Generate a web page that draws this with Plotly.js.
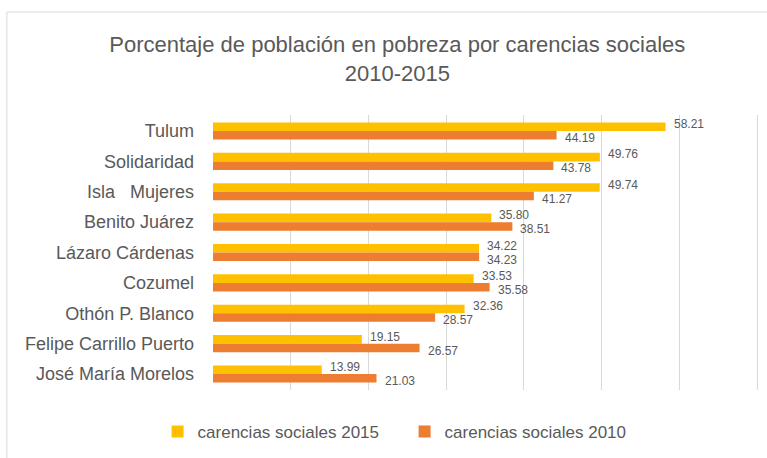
<!DOCTYPE html>
<html>
<head>
<meta charset="utf-8">
<script src="https://cdn.plot.ly/plotly-3.0.1.min.js"></script>
<style>html,body{margin:0;padding:0;background:#fff;}#chart{width:767px;height:458px;}</style>
</head>
<body>
<div id="chart"></div>
<script>
const municipios = ["Tulum", "Solidaridad", "Isla\u00a0\u00a0\u00a0Mujeres", "Benito Juárez", "Lázaro Cárdenas", "Cozumel", "Othón P. Blanco", "Felipe Carrillo Puerto", "José María Morelos"];
const carencias2015 = [58.21, 49.76, 49.74, 35.80, 34.22, 33.53, 32.36, 19.15, 13.99];
const carencias2010 = [44.19, 43.78, 41.27, 38.51, 34.23, 35.58, 28.57, 26.57, 21.03];
const serieNames = ["carencias sociales 2015", "carencias sociales 2010"];
const gridTicks = [10, 20, 30, 40, 50, 60, 70];

const gray = "#595959";
const fontFam = "Liberation Sans, Arial, sans-serif";

const traces = [
  {type: "bar", orientation: "h", name: serieNames[0], y: municipios, x: carencias2015,
   marker: {color: "#FFC000"}, hoverinfo: "x+y"},
  {type: "bar", orientation: "h", name: serieNames[1], y: municipios, x: carencias2010,
   marker: {color: "#ED7D31"}, hoverinfo: "x+y"}
];

const annotations = [];
[[carencias2015, -7], [carencias2010, 7]].forEach(([vals, dy]) => {
  vals.forEach((v, i) => {
    annotations.push({x: v, y: municipios[i], xref: "x", yref: "y", text: v.toFixed(2),
      showarrow: false, xanchor: "left", yanchor: "middle", xshift: 6, yshift: -dy,
      font: {size: 12, color: gray, family: fontFam}});
  });
});

const L = 213, T = 115, B = 68;
const pwFull = 544 * 71 / 70;
const R = 767 - L - pwFull;
const ph = 458 - T - B;

const layout = {
  width: 767, height: 458,
  margin: {l: L, r: R, t: T, b: B, pad: 0},
  paper_bgcolor: "#fff", plot_bgcolor: "#fff",
  font: {family: fontFam, color: gray},
  title: {text: "Porcentaje de población en pobreza por carencias sociales<br>2010-2015",
          font: {size: 22, color: gray, family: fontFam}, x: 0.518, xref: "container", xanchor: "center",
          y: 0.886, yref: "container", yanchor: "bottom"},
  barmode: "group", bargap: 0.44, bargroupgap: 0,
  xaxis: {range: [0, 71], tickvals: gridTicks, showticklabels: false, showgrid: true,
          gridcolor: "#d9d9d9", gridwidth: 1, zeroline: false, showline: false, fixedrange: true},
  yaxis: {autorange: "reversed", type: "category", showgrid: false, zeroline: false, showline: false,
          ticks: "", ticklabelstandoff: 18, tickfont: {size: 18, color: gray, family: fontFam}},
  legend: {orientation: "h", xref: "container", x: 0.5275, xanchor: "center", yref: "container", y: 0.057, yanchor: "middle",
           font: {size: 17, color: gray, family: fontFam}, traceorder: "normal", itemwidth: 30,
           entrywidth: 202},
  showlegend: true,
  annotations: annotations,
  shapes: [{type: "rect", xref: "paper", yref: "paper",
            x0: (7 - L) / pwFull, x1: 1.1, y0: -0.4, y1: 1 + (T - 12) / ph,
            line: {color: "#d9d9d9", width: 1}, fillcolor: "rgba(0,0,0,0)", layer: "below"}]
};

Plotly.newPlot("chart", traces, layout, {displayModeBar: false, staticPlot: true});
</script>
</body>
</html>
